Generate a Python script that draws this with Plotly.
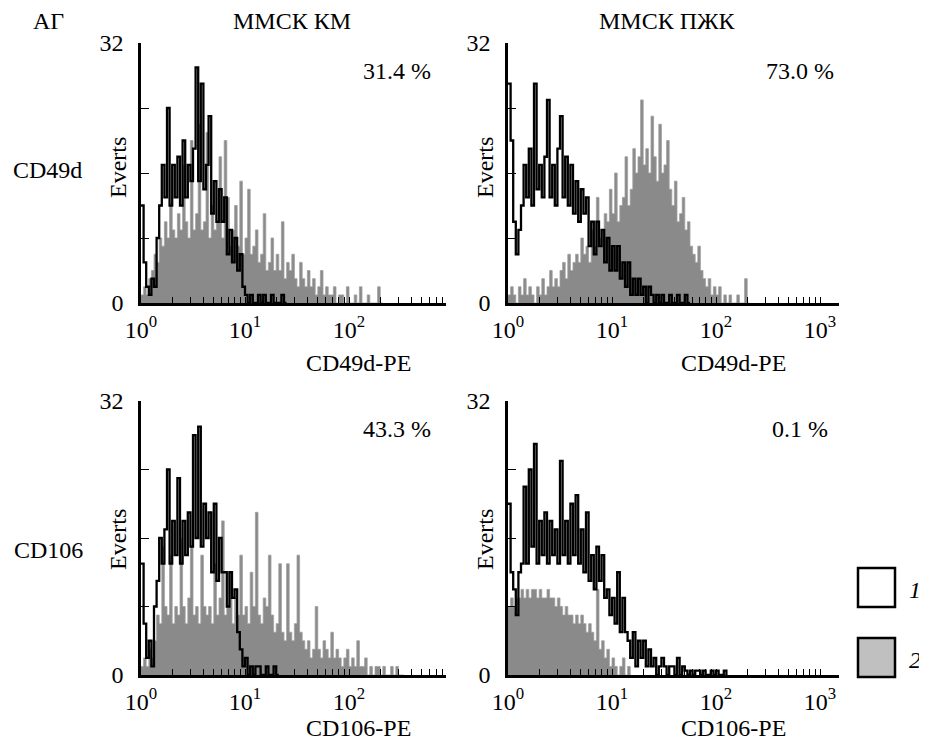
import plotly.graph_objects as go

# channel width in decades (40 channels per decade)
BIN = 0.025

# CD49d, MMSC KM  (1 = control, 2 = CD49d-PE)
km_cd49d_1 = [12, 5, 2, 1, 3, 2, 8, 12, 17, 13,
              24, 12, 17, 13, 18, 12, 20, 13, 17, 15,
              19, 29, 15, 27, 14, 17, 23, 11, 15, 10,
              14, 10, 13, 6, 9, 5, 8, 4, 6, 2,
              1, 0, 1, 0, 0, 1, 0, 1, 0, 0,
              1, 0, 0, 0, 1, 0, 0]
km_cd49d_2 = [1, 2, 1, 3, 4, 6, 5, 8, 7, 10,
              8, 12, 9, 8, 11, 9, 17, 10, 8, 20,
              9, 11, 22, 9, 10, 21, 8, 12, 9, 10,
              18, 8, 20, 13, 7, 9, 12, 7, 15, 6,
              8, 14, 6, 7, 9, 5, 6, 11, 4, 5,
              8, 4, 6, 4, 10, 3, 5, 4, 6, 3,
              2, 5, 3, 2, 4, 2, 3, 1, 2, 4,
              1, 2, 1, 1, 2, 0, 1, 1, 0, 2,
              0, 0, 1, 0, 2, 0, 0, 1, 0, 0,
              0, 2, 0, 0]

# CD49d, MMSC PZhK
pz_cd49d_1 = [27, 20, 10, 6, 9, 12, 17, 13, 19, 12,
              27, 14, 17, 13, 18, 25, 13, 17, 12, 19,
              23, 13, 18, 12, 17, 11, 15, 10, 14, 11,
              13, 7, 10, 6, 10, 7, 9, 5, 8, 4,
              7, 4, 7, 3, 5, 2, 5, 1, 3, 1,
              3, 1, 2, 0, 2, 1, 0, 1, 0, 1,
              0, 0, 1, 0, 0, 1, 0, 0, 1, 0, 0]
pz_cd49d_2 = [1, 2, 1, 0, 2, 1, 3, 1, 2, 1,
              0, 2, 1, 3, 1, 2, 4, 2, 3, 2,
              4, 5, 3, 6, 4, 5, 6, 5, 8, 6,
              7, 5, 9, 7, 13, 8, 9, 11, 10, 14,
              11, 16, 10, 12, 13, 18, 12, 14, 19, 16,
              18, 25, 17, 19, 16, 23, 18, 15, 22, 16,
              17, 20, 14, 12, 15, 10, 11, 13, 9, 10,
              7, 6, 5, 7, 4, 3, 2, 3, 1, 2,
              1, 2, 0, 1, 0, 1, 0, 0, 1, 0,
              0, 3, 0, 0]

# CD106, MMSC KM
km_cd106_1 = [13, 6, 2, 4, 1, 8, 11, 16, 13, 17,
              24, 13, 18, 14, 23, 13, 18, 14, 19, 15,
              28, 16, 29, 15, 20, 16, 19, 12, 20, 11,
              16, 12, 12, 8, 12, 9, 10, 5, 3, 1,
              2, 0, 1, 0, 1, 1, 0, 0, 1, 0,
              0, 1, 0, 0]
km_cd106_2 = [1, 2, 1, 3, 2, 4, 7, 6, 15, 8,
              7, 14, 6, 8, 7, 16, 8, 6, 9, 15,
              7, 8, 6, 14, 8, 7, 8, 6, 13, 7,
              9, 18, 7, 8, 12, 6, 9, 7, 14, 7,
              8, 6, 12, 8, 19, 7, 6, 9, 8, 14,
              7, 5, 6, 13, 5, 4, 13, 5, 4, 6,
              14, 5, 4, 3, 4, 2, 3, 8, 3, 2,
              4, 3, 2, 5, 2, 3, 2, 1, 2, 3,
              1, 2, 1, 4, 1, 1, 2, 0, 1, 0,
              1, 1, 0, 1, 0, 0, 1, 0, 1, 0,
              0, 0]

# CD106, MMSC PZhK
pz_cd106_1 = [20, 12, 10, 7, 12, 13, 22, 13, 24, 15,
              27, 13, 18, 14, 19, 13, 18, 14, 17, 13,
              25, 14, 18, 13, 20, 14, 21, 13, 17, 12,
              19, 11, 14, 10, 15, 11, 14, 9, 10, 7,
              9, 6, 12, 5, 9, 5, 4, 2, 5, 1,
              4, 2, 4, 1, 3, 1, 2, 0, 1, 2,
              1, 0, 1, 1, 0, 2, 0, 1, 0.5, 0,
              0.5, 0, 0.5, 0.5, 0, 0.5, 0, 0, 0.5, 0,
              0.5, 0, 0, 0.5, 0]
pz_cd106_2 = [8, 9, 8, 9, 9, 10, 9, 10, 9, 10,
              10, 9, 10, 9, 9, 10, 9, 9, 8, 9,
              8, 7, 8, 7, 7, 6, 7, 6, 7, 6,
              5, 6, 5, 4, 10, 3, 4, 2, 3, 1,
              2, 1, 0, 1, 2, 0, 1, 0]

col_titles = ["ММСК КМ", "ММСК ПЖК"]
row_titles = ["CD49d", "CD106"]
x_titles = ["CD49d-PE", "CD106-PE"]
percents = [["31.4 %", "73.0 %"], ["43.3 %", "0.1 %"]]
panels = [[(km_cd49d_1, km_cd49d_2), (pz_cd49d_1, pz_cd49d_2)],
          [(km_cd106_1, km_cd106_2), (pz_cd106_1, pz_cd106_2)]]

FONT = "Liberation Serif, Times New Roman, serif"
FS = 24
# page body keeps an 8px margin, so the figure is drawn 8px in from the corner
OFF = 8
W, H = 927 - OFF, 744 - OFF


def px(x):
    return (x - OFF) / W


def py(y):
    return 1 - (y - OFF) / H


def channels(n):
    return [10 ** (i * BIN) for i in range(n)]


# panel geometry in screen pixels: left, right for columns; top, bottom for rows
cols = [(141, 446), (508, 839)]
rows = [(43, 303), (401, 675)]
decade_px = 104

fig = go.Figure()
annotations = []

minor = [m * 10 ** k for k in range(4) for m in range(1, 10)]
major_text = {1: "10<sup>0</sup>", 10: "10<sup>1</sup>", 100: "10<sup>2</sup>", 1000: "10<sup>3</sup>"}

n = 0
for r in range(2):
    for c in range(2):
        n += 1
        xa = "x" if n == 1 else f"x{n}"
        ya = "y" if n == 1 else f"y{n}"
        ctrl, stain = panels[r][c]
        fig.add_trace(go.Scatter(
            x=channels(len(stain)), y=stain, mode="lines", line_shape="hv",
            fill="tozeroy", fillcolor="#8a8a8a",
            line=dict(color="#a0a0a0", width=0.8),
            xaxis=xa, yaxis=ya, hoverinfo="skip"))
        fig.add_trace(go.Scatter(
            x=channels(len(ctrl)), y=ctrl, mode="lines", line_shape="hv",
            line=dict(color="black", width=2.3),
            xaxis=xa, yaxis=ya, hoverinfo="skip"))

        l, rr = cols[c]
        t, b = rows[r]
        xmax = (rr - l) / decade_px
        axis_common = dict(showline=True, linecolor="black", linewidth=2.5,
                           ticks="inside", tickcolor="black", tickwidth=1.3,
                           showgrid=False, zeroline=False, automargin=False,
                           tickfont=dict(family=FONT, size=FS, color="black"))
        fig.layout[xa.replace("x", "xaxis")] = dict(
            axis_common, type="log", range=[0, xmax],
            domain=[px(l), px(rr)], anchor=ya, ticklen=6,
            tickvals=minor, ticktext=[major_text.get(v, "") for v in minor],
            ticklabelstandoff=3)
        fig.layout[ya.replace("y", "yaxis")] = dict(
            axis_common, range=[0, 32], domain=[py(b), py(t)], anchor=xa,
            ticklen=8, tickvals=[0, 8, 16, 24, 32],
            ticktext=["0", "", "", "", "32"], ticklabelstandoff=10)

        annotations.append(dict(x=px(l - 23), y=py((t + b) / 2 + (-5 if r == 0 else 2)),
                                text="Everts", textangle=-90, showarrow=False))
        annotations.append(dict(x=px(l + (256 if c == 0 else 292)), y=py(t + 28),
                                text=percents[r][c], showarrow=False))
        annotations.append(dict(x=px(l + (217 if c == 0 else 225)), y=py(b + 60 if r == 0 else b + 53),
                                text=x_titles[r], showarrow=False))

annotations.append(dict(x=px(48), y=py(21), text="АГ", showarrow=False))
annotations.append(dict(x=px(292), y=py(21), text=col_titles[0], showarrow=False))
annotations.append(dict(x=px(667), y=py(21), text=col_titles[1], showarrow=False))
annotations.append(dict(x=px(47), y=py(170), text=row_titles[0], showarrow=False))
annotations.append(dict(x=px(48), y=py(550), text=row_titles[1], showarrow=False))
annotations.append(dict(x=px(915), y=py(590), text="<i>1</i>", showarrow=False))
annotations.append(dict(x=px(915), y=py(660), text="<i>2</i>", showarrow=False))

for a in annotations:
    a.update(xref="paper", yref="paper", xanchor="center", yanchor="middle",
             font=dict(family=FONT, size=FS, color="black"))

shapes = [
    dict(type="rect", xref="paper", yref="paper", x0=px(858), x1=px(895),
         y0=py(607), y1=py(568), line=dict(color="black", width=2.5), fillcolor="white"),
    dict(type="rect", xref="paper", yref="paper", x0=px(858), x1=px(895),
         y0=py(677), y1=py(638), line=dict(color="black", width=2.5), fillcolor="#c0c0c0"),
]

fig.update_layout(width=W, height=H, margin=dict(l=0, r=0, t=0, b=0),
                  paper_bgcolor="white", plot_bgcolor="white", showlegend=False,
                  annotations=annotations, shapes=shapes,
                  font=dict(family=FONT, size=FS, color="black"))

fig.write_html("out.html")
